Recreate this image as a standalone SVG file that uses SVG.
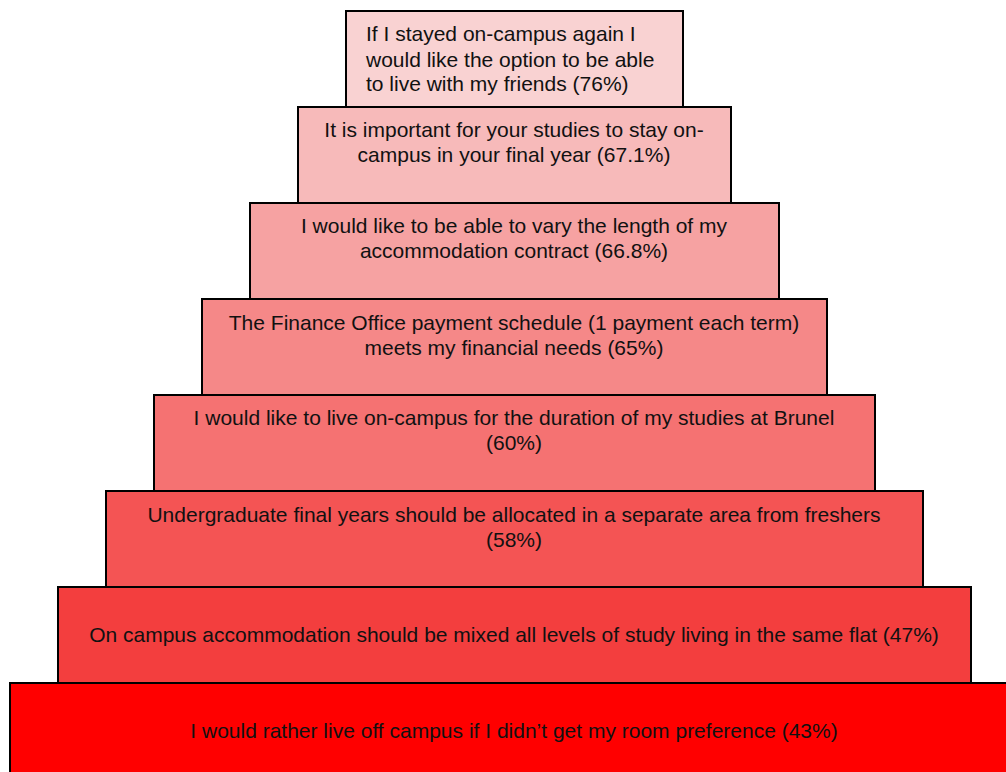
<svg xmlns="http://www.w3.org/2000/svg" width="1006" height="772" viewBox="0 0 1006 772">
<style>
.b{stroke:#000;stroke-width:2}
text{font-family:"Liberation Sans",Arial,sans-serif;font-size:21px;fill:#111}
.c{text-anchor:middle}
</style>
<rect width="1006" height="772" fill="#fff"/>
<g id="n8"><rect class="b" x="10" y="683" width="1000" height="95" fill="#ff0000"/>
<text class="c" x="514" y="738">I would rather live off campus if I didn’t get my room preference (43%)</text></g>
<g id="n7"><rect class="b" x="58" y="587" width="913" height="96" fill="#f33e3e"/>
<text class="c" x="514" y="642">On campus accommodation should be mixed all levels of study living in the same flat (47%)</text></g>
<g id="n6"><rect class="b" x="106" y="491" width="817" height="96" fill="#f45454"/>
<text class="c" x="514" y="522">Undergraduate final years should be allocated in a separate area from freshers</text>
<text class="c" x="514" y="547">(58%)</text></g>
<g id="n5"><rect class="b" x="154" y="395" width="721" height="96" fill="#f57272"/>
<text class="c" x="514" y="425">I would like to live on-campus for the duration of my studies at Brunel</text>
<text class="c" x="514" y="450">(60%)</text></g>
<g id="n4"><rect class="b" x="202" y="299" width="625" height="96" fill="#f58888"/>
<text class="c" x="514" y="330">The Finance Office payment schedule (1 payment each term)</text>
<text class="c" x="514" y="355">meets my financial needs (65%)</text></g>
<g id="n3"><rect class="b" x="250" y="203" width="529" height="96" fill="#f6a2a2"/>
<text class="c" x="514" y="233">I would like to be able to vary the length of my</text>
<text class="c" x="514" y="258">accommodation contract (66.8%)</text></g>
<g id="n2"><rect class="b" x="298" y="107" width="433" height="96" fill="#f7baba"/>
<text class="c" x="514" y="137">It is important for your studies to stay on-</text>
<text class="c" x="514" y="162">campus in your final year (67.1%)</text></g>
<g id="n1"><rect class="b" x="346" y="11" width="337" height="96" fill="#f9d2d2"/>
<text x="366" y="41">If I stayed on-campus again I</text>
<text x="366" y="67">would like the option to be able</text>
<text x="366" y="91">to live with my friends (76%)</text></g>
<g id="connectors"/>
</svg>
